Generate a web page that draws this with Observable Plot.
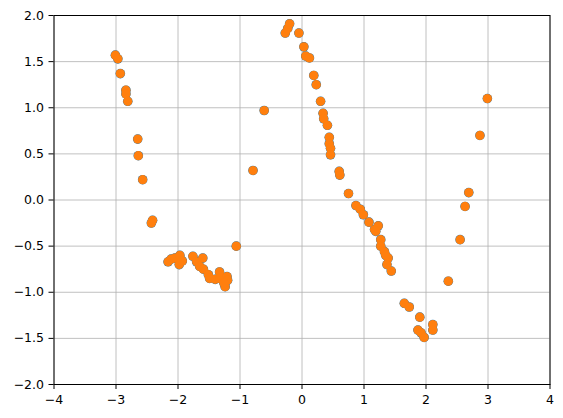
<!DOCTYPE html>
<html><head><meta charset="utf-8">
<script src="https://cdn.jsdelivr.net/npm/d3@7"></script>
<script src="https://cdn.jsdelivr.net/npm/@observablehq/plot@0.6"></script>
<style>body{margin:0;background:#fff}</style>
</head><body><div id="chart"></div>
<script>
const xs = [-3.01,-2.97,-2.93,-2.84,-2.84,-2.81,-2.65,-2.64,-2.57,-2.41,-2.43,
  -2.16,-2.11,-2.05,-1.97,-1.98,-1.93,-1.76,-1.70,-1.60,-1.65,-1.59,-1.51,-1.49,-1.40,-1.33,-1.32,-1.21,-1.20,-1.24,-1.26,
  -1.06,-0.79,-0.61,
  -0.27,-0.23,-0.20,-0.05,0.03,0.06,0.12,0.19,0.23,0.30,0.34,0.35,0.41,0.44,0.44,0.46,0.46,0.60,0.61,
  0.75,0.87,0.94,0.99,1.08,1.17,1.23,1.19,1.27,1.27,1.33,1.39,1.35,1.37,1.44,
  1.65,1.73,1.90,1.87,1.92,1.97,2.11,2.11,2.36,2.55,2.63,2.69,2.87,2.99];
const ys = [1.57,1.53,1.37,1.19,1.15,1.07,0.66,0.48,0.22,-0.22,-0.25,
  -0.67,-0.64,-0.63,-0.60,-0.70,-0.66,-0.61,-0.67,-0.63,-0.72,-0.75,-0.81,-0.85,-0.86,-0.78,-0.85,-0.83,-0.87,-0.94,-0.90,
  -0.50,0.32,0.97,
  1.81,1.86,1.91,1.81,1.66,1.56,1.54,1.35,1.25,1.07,0.94,0.88,0.81,0.68,0.61,0.56,0.49,0.31,0.27,
  0.07,-0.06,-0.10,-0.16,-0.24,-0.32,-0.28,-0.34,-0.43,-0.50,-0.56,-0.63,-0.60,-0.70,-0.77,
  -1.12,-1.16,-1.27,-1.41,-1.44,-1.49,-1.35,-1.41,-0.88,-0.43,-0.07,0.08,0.70,1.10];
const xTicks = [-4,-3,-2,-1,0,1,2,3,4];
const yTicks = [-2,-1.5,-1,-0.5,0,0.5,1,1.5,2];

const data = xs.map((x, i) => ({x, y: ys[i]}));

const chart = Plot.plot({
  width: 563, height: 418,
  marginLeft: 53.5, marginRight: 13.5, marginTop: 15, marginBottom: 34,
  style: {fontFamily: "DejaVu Sans", fontSize: "12.5px", color: "#000", background: "#fff"},
  x: {domain: [-4, 4]},
  y: {domain: [-2, 2]},
  marks: [
    Plot.gridX(xTicks, {stroke: "#b0b0b0", strokeOpacity: 1, strokeWidth: 0.8}),
    Plot.gridY(yTicks, {stroke: "#b0b0b0", strokeOpacity: 1, strokeWidth: 0.8}),
    Plot.dot(data, {x: "x", y: "y", r: 4.8, fill: "#1f77b4", stroke: "none"}),
    Plot.dot(data, {x: "x", y: "y", r: 4.6, fill: "#ff7f0e", stroke: "none"}),
    Plot.frame({stroke: "#000", strokeWidth: 1}),
    Plot.axisX(xTicks, {tickSize: 5, tickPadding: 6, tickFormat: d3.format("d"), label: null, stroke: "#000", fill: "#000"}),
    Plot.axisY(yTicks, {tickSize: 5, tickPadding: 5, tickFormat: d3.format(".1f"), label: null, stroke: "#000", fill: "#000"})
  ]
});
document.getElementById("chart").appendChild(chart);
</script>
</body></html>
